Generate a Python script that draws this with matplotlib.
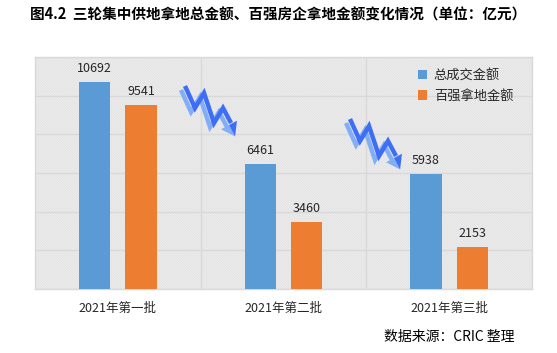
import matplotlib
matplotlib.use("Agg")
import matplotlib.pyplot as plt
import numpy as np
from matplotlib.patches import Rectangle, Polygon
from matplotlib.lines import Line2D

plt.rcParams['font.family'] = ['Noto Sans CJK SC', 'DejaVu Sans']

categories = ["2021年第一批", "2021年第二批", "2021年第三批"]
total_amount = [10692, 6461, 5938]
top100_amount = [9541, 3460, 2153]
series_names = ["总成交金额", "百强拿地金额"]
title = "图4.2  三轮集中供地拿地总金额、百强房企拿地金额变化情况（单位：亿元）"
source = "数据来源：CRIC 整理"

W, H = 557, 353
fig = plt.figure(figsize=(W / 100, H / 100), dpi=100)
ax = fig.add_axes([35 / W, 1 - 289 / H, (532 - 35) / W, (289 - 57) / H])

plt.rcParams['hatch.linewidth'] = 0.5
bg = Rectangle((0, 0), 1, 1, transform=ax.transAxes, facecolor='white',
               edgecolor='#d8d8d8', hatch='\\' * 20, linewidth=0, zorder=0)
ax.add_patch(bg)
ax.set_facecolor('white')

x = np.arange(len(categories))
bw = 0.19
off = 0.14
blue = '#5B9BD5'
orange = '#ED7D31'
b1 = ax.bar(x - off, total_amount, bw, color=blue, zorder=3, label=series_names[0])
b2 = ax.bar(x + off, top100_amount, bw, color=orange, zorder=3, label=series_names[1])

for rects, vals in ((b1, total_amount), (b2, top100_amount)):
    for r, v in zip(rects, vals):
        ax.annotate(f"{v}", (r.get_x() + r.get_width() / 2, v), xytext=(0, 5),
                    textcoords='offset points', ha='center', va='bottom',
                    fontsize=9, color='#262626', zorder=4)

ax.set_xlim(-0.5, 2.5)
ax.set_ylim(0, 12000)
ax.set_yticks(np.arange(0, 12001, 2000))
ax.set_yticklabels([])
ax.tick_params(axis='y', length=0)
ax.set_xticks(x)
ax.set_xticklabels(categories, fontsize=9, color='#262626')
ax.tick_params(axis='x', length=0, pad=9)
ax.set_xticks([0.5, 1.5], minor=True)
ax.tick_params(axis='x', which='minor', length=0)
ax.grid(axis='y', which='major', color='#d9d9d9', linewidth=1.0, zorder=1)
ax.grid(axis='x', which='minor', color='#d9d9d9', linewidth=1.0, zorder=1)
ax.set_axisbelow(True)
for s in ax.spines.values():
    s.set_color('#d9d9d9')
    s.set_linewidth(1.0)

leg = ax.legend(loc='upper left', bbox_to_anchor=(0.76, 0.97), frameon=False,
                fontsize=9.5, handlelength=0.7, handleheight=0.7,
                handletextpad=0.5, labelspacing=0.55, borderaxespad=0)
for t in leg.get_texts():
    t.set_color('#262626')

fig.text(0.5, 1 - 15 / H, title, ha='center', va='center', fontsize=10.5,
         fontweight='bold', color='black')
fig.text(515 / W, 1 - 337 / H, source, ha='right', va='center', fontsize=10,
         color='black')

# decorative zigzag arrows
shape = [(0, 0), (10, 22), (19, 7), (29, 37), (38, 22), (46, 37)]
dark = '#3D6EF5'
light = '#82AEF5'


def to_fig(px, py):
    return px / W, 1 - py / H


def zigzag(x0, y0):
    for col, d in ((light, (-2.0, 2.0)), (dark, (2.0, -2.0))):
        xs, ys = zip(*[to_fig(x0 + sx + d[0], y0 + sy + d[1]) for sx, sy in shape])
        fig.add_artist(Line2D(xs, ys, color=col, linewidth=3.2,
                              solid_joinstyle='miter', solid_capstyle='butt'))
    bx, by = x0 + shape[-1][0], y0 + shape[-1][1]
    dvec = np.array([shape[-1][0] - shape[-2][0], shape[-1][1] - shape[-2][1]], float)
    dvec /= np.linalg.norm(dvec)
    perp = np.array([dvec[1], -dvec[0]])
    tip = np.array([bx, by]) + dvec * 13
    left = np.array([bx, by]) - perp * 9
    right = np.array([bx, by]) + perp * 9
    base = np.array([bx, by])
    fig.add_artist(Polygon([to_fig(*left), to_fig(*base), to_fig(*tip)], closed=True,
                           facecolor=light, edgecolor='none', transform=fig.transFigure))
    fig.add_artist(Polygon([to_fig(*right), to_fig(*base), to_fig(*tip)], closed=True,
                           facecolor=dark, edgecolor='none', transform=fig.transFigure))


zigzag(183, 88)
zigzag(348, 121)

fig.savefig("out.png", dpi=100)
